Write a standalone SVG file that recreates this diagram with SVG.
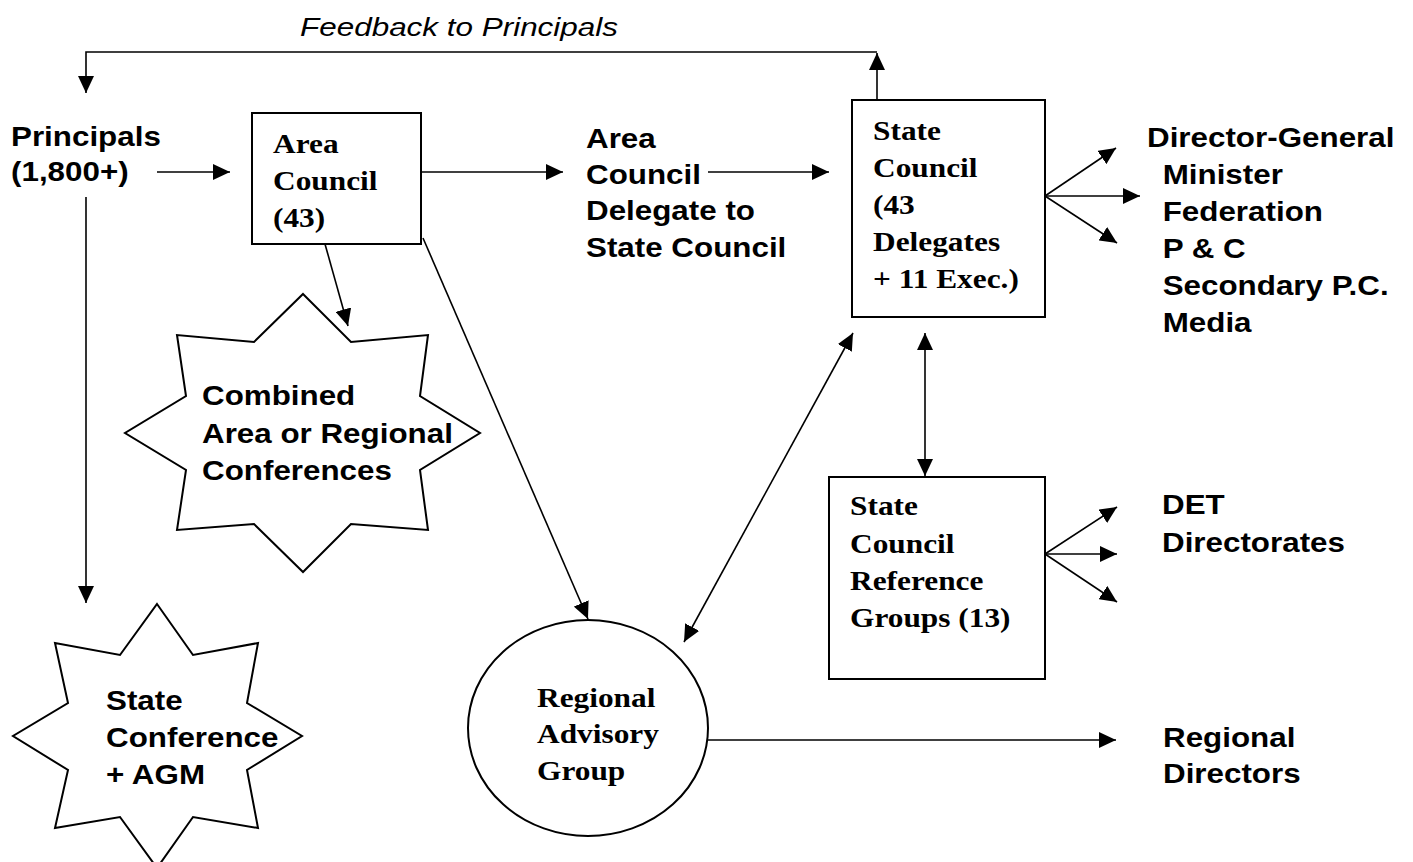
<svg xmlns="http://www.w3.org/2000/svg" width="1413" height="862" viewBox="0 0 1413 862">
<style>
.ln{stroke:#000;stroke-width:1.6;fill:none}
.arr{marker-end:url(#ah)}
.both{marker-start:url(#ah);marker-end:url(#ah)}
.box{fill:#fff;stroke:#000;stroke-width:2}
.sans{font-family:"Liberation Sans",Arial,sans-serif;font-weight:bold;font-size:28px;fill:#000}
.serif{font-family:"Liberation Serif","Times New Roman",serif;font-weight:bold;font-size:28px;fill:#000}
.ital{font-family:"Liberation Sans",Arial,sans-serif;font-style:italic;font-size:26px;fill:#000}
</style>
<defs>
<marker id="ah" markerUnits="userSpaceOnUse" markerWidth="17" markerHeight="16" refX="17" refY="8" orient="auto-start-reverse" viewBox="0 0 17 16">
<path d="M0,0 L17,8 L0,16 z" fill="#000"/>
</marker>
</defs>
<rect width="1413" height="862" fill="#fff"/>

<g id="connectors">
<path class="ln arr" d="M877,100 V53"/>
<path class="ln arr" d="M877,52 H86 V93"/>
<path class="ln arr" d="M157,172 H230"/>
<path class="ln arr" d="M86,197 V603"/>
<path class="ln arr" d="M421,172 H563"/>
<path class="ln arr" d="M708,172 H829"/>
<path class="ln arr" d="M325,244 L348,326"/>
<path class="ln arr" d="M423,238 L588,619"/>
<path class="ln both" d="M853,333 L684,642"/>
<path class="ln both" d="M925,333 V476"/>
<path class="ln arr" d="M708,740 H1116"/>
<path class="ln arr" d="M1045,196 L1116,148"/>
<path class="ln arr" d="M1045,196 H1140"/>
<path class="ln arr" d="M1045,196 L1117,243"/>
<path class="ln arr" d="M1045,554 L1117,507"/>
<path class="ln arr" d="M1045,554 H1117"/>
<path class="ln arr" d="M1045,554 L1117,602"/>
</g>

<g id="feedback-label">
<text class="ital" x="300" y="36" textLength="318" lengthAdjust="spacingAndGlyphs">Feedback to Principals</text>
</g>

<g id="principals">
<text class="sans" transform="translate(11,146) scale(1.12 1)"><tspan x="0" y="0">Principals</tspan><tspan x="0" y="35">(1,800+)</tspan></text>
</g>

<g id="area-council">
<rect class="box" x="252" y="113" width="169" height="131"/>
<text class="serif" transform="translate(273,153) scale(1.12 1)"><tspan x="0" y="0">Area</tspan><tspan x="0" y="37">Council</tspan><tspan x="0" y="74">(43)</tspan></text>
</g>

<g id="delegate">
<text class="sans" transform="translate(586,148) scale(1.12 1)"><tspan x="0" y="0">Area</tspan><tspan x="0" y="36">Council</tspan><tspan x="0" y="72">Delegate to</tspan><tspan x="0" y="109">State Council</tspan></text>
</g>

<g id="state-council">
<rect class="box" x="852" y="100" width="193" height="217"/>
<text class="serif" transform="translate(873,140) scale(1.12 1)"><tspan x="0" y="0">State</tspan><tspan x="0" y="37">Council</tspan><tspan x="0" y="74">(43</tspan><tspan x="0" y="111">Delegates</tspan><tspan x="0" y="148">+ 11 Exec.)</tspan></text>
</g>

<g id="external">
<text class="sans" transform="translate(1147,147) scale(1.12 1)"><tspan x="0" y="0">Director-General</tspan><tspan x="14" y="37">Minister</tspan><tspan x="14" y="74">Federation</tspan><tspan x="14" y="111">P &amp; C</tspan><tspan x="14" y="148">Secondary P.C.</tspan><tspan x="14" y="185">Media</tspan></text>
</g>

<g id="combined-conferences">
<polygon class="box" points="303,294 351,342 428,335 420,396 480,433 420,470 428,530 351,524 303,572 254,524 177,530 186,470 125,433 186,396 177,335 254,342"/>
<text class="sans" transform="translate(202,405) scale(1.12 1)"><tspan x="0" y="0">Combined</tspan><tspan x="0" y="38">Area or Regional</tspan><tspan x="0" y="75">Conferences</tspan></text>
</g>

<g id="state-conference">
<polygon class="box" points="157,604 193,655 258,643 247,703 302,736 247,770 258,828 193,817 157,868 120,817 55,828 68,770 13,736 68,703 55,643 120,655"/>
<text class="sans" transform="translate(106,710) scale(1.12 1)"><tspan x="0" y="0">State</tspan><tspan x="0" y="37">Conference</tspan><tspan x="0" y="74">+ AGM</tspan></text>
</g>

<g id="reference-groups">
<rect class="box" x="829" y="477" width="216" height="202"/>
<text class="serif" transform="translate(850,515) scale(1.12 1)"><tspan x="0" y="0">State</tspan><tspan x="0" y="38">Council</tspan><tspan x="0" y="75">Reference</tspan><tspan x="0" y="112">Groups (13)</tspan></text>
</g>

<g id="det">
<text class="sans" transform="translate(1162,514) scale(1.12 1)"><tspan x="0" y="0">DET</tspan><tspan x="0" y="38">Directorates</tspan></text>
</g>

<g id="regional-advisory">
<ellipse class="box" cx="588" cy="728" rx="120" ry="108"/>
<text class="serif" transform="translate(537,707) scale(1.12 1)"><tspan x="0" y="0">Regional</tspan><tspan x="0" y="36">Advisory</tspan><tspan x="0" y="73">Group</tspan></text>
</g>

<g id="regional-directors">
<text class="sans" transform="translate(1163,747) scale(1.12 1)"><tspan x="0" y="0">Regional</tspan><tspan x="0" y="36">Directors</tspan></text>
</g>
</svg>
